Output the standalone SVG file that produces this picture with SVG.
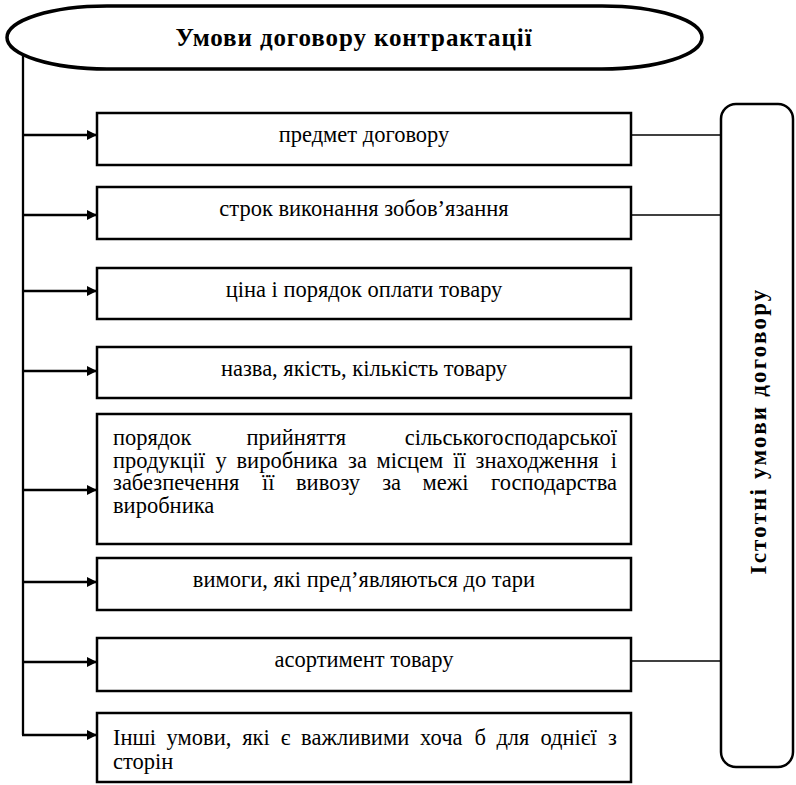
<svg xmlns="http://www.w3.org/2000/svg" width="796" height="785" viewBox="0 0 796 785">
<defs>
<style>
.box{fill:#fff;stroke:#000;stroke-width:2.5}
.t{font-family:'Liberation Serif','Times New Roman','DejaVu Serif',serif;font-size:22.5px;fill:#000}
.c{text-anchor:middle}
.e{text-anchor:end}
.b{font-weight:bold}
.ln{stroke:#000;stroke-width:2.3;fill:none}
.rl{stroke:#000;stroke-width:1.7;fill:none}
</style>
<marker id="ah" markerUnits="userSpaceOnUse" markerWidth="10" markerHeight="10" refX="10" refY="5" orient="auto">
<path d="M0,0 L10,5 L0,10 z" fill="#000"/>
</marker>
</defs>
<rect width="796" height="785" fill="#fff"/>
<g id="connectors">
<path class="ln" d="M23,55 V735"/>
<path class="ln" marker-end="url(#ah)" d="M22,135 H97"/>
<path class="ln" marker-end="url(#ah)" d="M22,215 H97"/>
<path class="ln" marker-end="url(#ah)" d="M22,291 H97"/>
<path class="ln" marker-end="url(#ah)" d="M22,371 H97"/>
<path class="ln" marker-end="url(#ah)" d="M22,490 H97"/>
<path class="ln" marker-end="url(#ah)" d="M22,582 H97"/>
<path class="ln" marker-end="url(#ah)" d="M22,662 H97"/>
<path class="ln" marker-end="url(#ah)" d="M22,735 H97"/>
<path class="rl" d="M631,135 H721"/>
<path class="rl" d="M631,215 H721"/>
<path class="rl" d="M631,661 H721"/>
</g>
<g id="title">
<rect x="7" y="6" width="695" height="63" rx="100" ry="31.5" fill="#fff" stroke="#000" stroke-width="3.5"/>
<text class="t b c" x="354" y="46" style="font-size:25px;letter-spacing:0.9px">Умови договору контрактації</text>
</g>
<g id="n1"><rect class="box" x="97" y="113" width="534" height="52"/><text class="t c" x="364" y="142">предмет договору</text></g>
<g id="n2"><rect class="box" x="97" y="187" width="534" height="52"/><text class="t c" x="364" y="216">строк виконання зобов’язання</text></g>
<g id="n3"><rect class="box" x="97" y="268" width="534" height="51"/><text class="t c" x="364" y="297">ціна і порядок оплати товару</text></g>
<g id="n4"><rect class="box" x="97" y="347" width="534" height="51"/><text class="t c" x="364" y="376">назва, якість, кількість товару</text></g>
<g id="n5"><rect class="box" x="97" y="414" width="534" height="130"/>
<text class="t" y="445"><tspan x="113">порядок</tspan><tspan x="246.5">прийняття</tspan><tspan x="617" class="e">сільськогосподарської</tspan></text>
<text class="t" y="468"><tspan x="113">продукції</tspan><tspan x="215.5">у</tspan><tspan x="236.5">виробника</tspan><tspan x="348">за</tspan><tspan x="376.6">місцем</tspan><tspan x="453.2">її</tspan><tspan x="475.5">знаходження</tspan><tspan x="617" class="e">і</tspan></text>
<text class="t" y="490"><tspan x="113">забезпечення</tspan><tspan x="262">її</tspan><tspan x="296">вивозу</tspan><tspan x="382.2">за</tspan><tspan x="422.6">межі</tspan><tspan x="617" class="e">господарства</tspan></text>
<text class="t" x="113" y="513">виробника</text>
</g>
<g id="n6"><rect class="box" x="97" y="558" width="534" height="52"/><text class="t c" x="364" y="587">вимоги, які пред’являються до тари</text></g>
<g id="n7"><rect class="box" x="97" y="638" width="534" height="53"/><text class="t c" x="364" y="667">асортимент товару</text></g>
<g id="n8"><rect class="box" x="97" y="713" width="534" height="69"/>
<text class="t" y="745"><tspan x="113">Інші</tspan><tspan x="166.6">умови,</tspan><tspan x="242.2">які</tspan><tspan x="280.8">є</tspan><tspan x="301.1">важливими</tspan><tspan x="420.1">хоча</tspan><tspan x="474.4">б</tspan><tspan x="496.4">для</tspan><tspan x="540.5">однієї</tspan><tspan x="617" class="e">з</tspan></text>
<text class="t" x="113" y="769">сторін</text>
</g>
<g id="n9"><rect x="721" y="104" width="72" height="663" rx="15" ry="15" fill="#fff" stroke="#000" stroke-width="2.5"/>
<text class="t b c" transform="translate(766,431) rotate(-90)" style="font-size:23px;letter-spacing:2.2px">Істотні умови договору</text>
</g>
</svg>
